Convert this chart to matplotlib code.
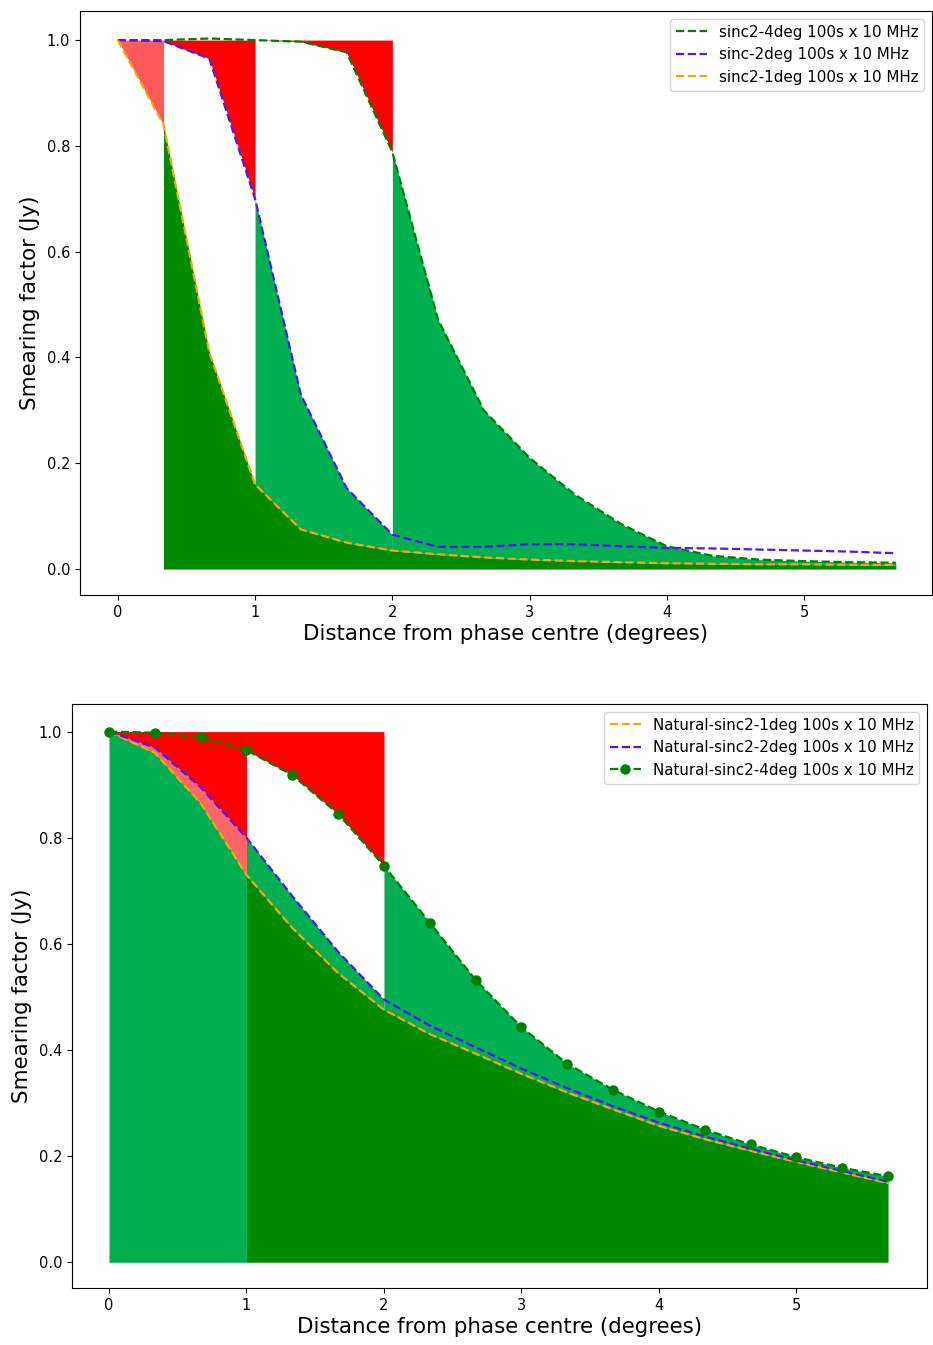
import numpy as np
import matplotlib
matplotlib.use("Agg")
import matplotlib.pyplot as plt

# sample positions (degrees)
x = [0, 1/3, 2/3, 1, 4/3, 5/3, 2, 7/3, 8/3, 3, 10/3, 11/3, 4, 13/3, 14/3, 5, 16/3, 17/3]

# top panel
top_1deg = [1.0, 0.84, 0.41, 0.16, 0.075, 0.05, 0.035, 0.028, 0.022, 0.018, 0.015, 0.013,
            0.011, 0.010, 0.009, 0.009, 0.008, 0.008]
top_2deg = [1.0, 0.998, 0.965, 0.70, 0.33, 0.153, 0.065, 0.042, 0.042, 0.047, 0.047, 0.043,
            0.040, 0.039, 0.037, 0.035, 0.033, 0.030]
top_4deg = [1.0, 1.0, 1.003, 1.0, 0.997, 0.977, 0.788, 0.471, 0.30, 0.21, 0.14, 0.085,
            0.043, 0.025, 0.018, 0.015, 0.013, 0.012]
top_labels = ["sinc2-4deg 100s x 10 MHz", "sinc-2deg 100s x 10 MHz", "sinc2-1deg 100s x 10 MHz"]

# bottom panel
bot_1deg = [1.0, 0.96, 0.865, 0.73, 0.63, 0.545, 0.476, 0.43, 0.393, 0.355, 0.320, 0.288,
            0.257, 0.232, 0.210, 0.189, 0.169, 0.149]
bot_2deg = [1.0, 0.97, 0.895, 0.80, 0.69, 0.585, 0.495, 0.446, 0.405, 0.365, 0.328, 0.294,
            0.263, 0.237, 0.214, 0.192, 0.172, 0.152]
bot_4deg = [1.0, 0.998, 0.989, 0.965, 0.918, 0.845, 0.747, 0.64, 0.532, 0.443, 0.374, 0.325,
            0.284, 0.25, 0.222, 0.198, 0.178, 0.162]
bot_labels = ["Natural-sinc2-1deg 100s x 10 MHz", "Natural-sinc2-2deg 100s x 10 MHz",
              "Natural-sinc2-4deg 100s x 10 MHz"]

X = np.array(x)
DG = '#008a00'
MG = '#00b050'
BL = '#5a10ff'
OR = 'orange'

W, H = 933, 1345
fig = plt.figure(figsize=(W/100, H/100), dpi=100)

def ax_at(l, t, r, b):
    return fig.add_axes([l/W, 1-b/H, (r-l)/W, (b-t)/H])

LBL = 15.4
TCK = 10.5
LEG = 10.9

# ---------- top ----------
ax = ax_at(80, 11, 932, 595)
y1, y2, y4 = map(np.array, (top_1deg, top_2deg, top_4deg))
ax.fill_between(X, y1, 1, where=X <= 1/3+1e-9, color='red', alpha=0.65, lw=0)
ax.fill_between(X, 0, y1, where=X >= 1/3-1e-9, color=DG, lw=0)
ax.fill_between(X, y2, 1, where=(X >= 1/3-1e-9) & (X <= 1+1e-9), color='red', lw=0)
ax.fill_between(X, y1, y2, where=(X >= 1-1e-9) & (X <= 2+1e-9), color=MG, lw=0)
ax.fill_between(X, y4, 1, where=(X >= 1-1e-9) & (X <= 2+1e-9), color='red', lw=0)
ax.fill_between(X, y1, y4, where=X >= 2-1e-9, color=MG, lw=0)
ax.plot(X, y4, '--', color='green', lw=1.6, label=top_labels[0])
ax.plot(X, y2, '--', color=BL, lw=1.6, label=top_labels[1])
ax.plot(X, y1, '--', color=OR, lw=1.6, label=top_labels[2])
ax.set_xlim(-0.275, 5.93)
ax.set_ylim(-0.049, 1.055)
ax.set_xticks([0, 1, 2, 3, 4, 5])
ax.set_yticks([0, 0.2, 0.4, 0.6, 0.8, 1.0])
ax.tick_params(labelsize=TCK)
ax.set_xlabel("Distance from phase centre (degrees)", fontsize=LBL, labelpad=3)
ax.set_ylabel("Smearing factor (Jy)", fontsize=LBL, labelpad=5)
ax.legend(loc='upper right', fontsize=LEG)

# ---------- bottom ----------
ax = ax_at(72, 704, 927, 1288)
y1, y2, y4 = map(np.array, (bot_1deg, bot_2deg, bot_4deg))
ax.fill_between(X, 0, y1, where=X <= 1+1e-9, color=MG, lw=0)
ax.fill_between(X, y1, y2, where=X <= 1+1e-9, color='red', alpha=0.6, lw=0)
ax.fill_between(X, y2, 1, where=X <= 1+1e-9, color='red', lw=0)
ax.fill_between(X, 0, y1, where=X >= 1-1e-9, color=DG, lw=0)
ax.fill_between(X, y1, y2, where=(X >= 1-1e-9) & (X <= 2+1e-9), color=MG, lw=0)
ax.fill_between(X, y4, 1, where=(X >= 1-1e-9) & (X <= 2+1e-9), color='red', lw=0)
ax.fill_between(X, y1, y4, where=X >= 2-1e-9, color=MG, lw=0)
ax.plot(X, y1, '--', color=OR, lw=1.6, label=bot_labels[0])
ax.plot(X, y2, '--', color=BL, lw=1.6, label=bot_labels[1])
ax.plot(X, y4, '--o', color='green', lw=1.6, ms=6.5, label=bot_labels[2])
ax.set_xlim(-0.269, 5.95)
ax.set_ylim(-0.0485, 1.052)
ax.set_xticks([0, 1, 2, 3, 4, 5])
ax.set_yticks([0, 0.2, 0.4, 0.6, 0.8, 1.0])
ax.tick_params(labelsize=TCK)
ax.set_xlabel("Distance from phase centre (degrees)", fontsize=LBL, labelpad=3)
ax.set_ylabel("Smearing factor (Jy)", fontsize=LBL, labelpad=5)
ax.legend(loc='upper right', fontsize=LEG)

fig.savefig("out.png", dpi=100)
